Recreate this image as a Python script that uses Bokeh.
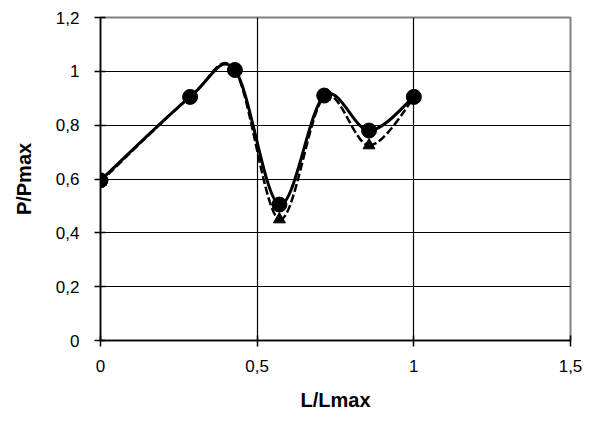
import numpy as np
from bokeh.plotting import figure
from bokeh.models import FixedTicker, CustomJSTickFormatter, Range1d
from bokeh.embed import file_html
from bokeh.resources import INLINE

# Relative length positions and normalised load for the two measured series
x_rel = [0.0, 0.286, 0.429, 0.571, 0.714, 0.857, 1.0]
p_circle = [0.595, 0.905, 1.005, 0.505, 0.91, 0.78, 0.905]
p_triangle = [0.59, 0.905, 1.005, 0.45, 0.905, 0.725, 0.9]

x_ticks = [0, 0.5, 1, 1.5]
y_ticks = [0, 0.2, 0.4, 0.6, 0.8, 1.0, 1.2]

FONT = "Liberation Sans"


def smooth_segments(xs, ys):
    """Cubic Bezier segments through the points (Catmull-Rom style tangents)."""
    x = np.asarray(xs, dtype=float)
    y = np.asarray(ys, dtype=float)
    n = len(x)
    prev = np.r_[0, np.arange(n - 1)]
    nxt = np.r_[np.arange(1, n), n - 1]
    tx = (x[nxt] - x[prev]) / 6.0
    ty = (y[nxt] - y[prev]) / 6.0
    return dict(
        x0=x[:-1], y0=y[:-1], x1=x[1:], y1=y[1:],
        cx0=x[:-1] + tx[:-1], cy0=y[:-1] + ty[:-1],
        cx1=x[1:] - tx[1:], cy1=y[1:] - ty[1:],
    )


p = figure(
    width=594, height=421,
    x_range=Range1d(0, 1.5), y_range=Range1d(0, 1.2),
    output_backend="svg", toolbar_location=None,
    min_border_left=100, min_border_right=24,
    min_border_top=17, min_border_bottom=81,
    background_fill_color="white", border_fill_color="white",
)

p.outline_line_color = "#808080"
p.outline_line_width = 2

comma = CustomJSTickFormatter(
    code="return (Math.round(tick * 10) / 10).toString().replace('.', ',');"
)

p.xaxis.ticker = FixedTicker(ticks=x_ticks)
p.yaxis.ticker = FixedTicker(ticks=y_ticks)
p.xaxis.formatter = comma
p.yaxis.formatter = comma

for ax in (p.xaxis[0], p.yaxis[0]):
    ax.axis_line_color = "black"
    ax.axis_line_width = 1.5
    ax.major_tick_line_color = "black"
    ax.major_tick_line_width = 1.5
    ax.major_tick_in = 5
    ax.major_tick_out = 6
    ax.minor_tick_line_color = None
    ax.major_label_text_font = FONT
    ax.major_label_text_font_size = "17px"
    ax.major_label_text_color = "black"
    ax.axis_label_text_font = FONT
    ax.axis_label_text_font_size = "20px"
    ax.axis_label_text_font_style = "bold"
    ax.axis_label_text_color = "black"

p.xaxis.axis_label = "L/Lmax"
p.yaxis.axis_label = "P/Pmax"
p.xaxis.major_label_standoff = 13
p.yaxis.major_label_standoff = 15
p.xaxis.axis_label_standoff = 14
p.yaxis.axis_label_standoff = 18

p.xgrid.grid_line_color = "black"
p.ygrid.grid_line_color = "black"
p.xgrid.grid_line_width = 1.2
p.ygrid.grid_line_width = 1.2

# Dashed series with triangles
seg_t = smooth_segments(x_rel, p_triangle)
p.bezier(**seg_t, line_color="black", line_width=2.5, line_dash="8 3")
p.scatter(x_rel, p_triangle, marker="triangle", size=12, color="black")

# Solid series with circles
seg_c = smooth_segments(x_rel, p_circle)
p.bezier(**seg_c, line_color="black", line_width=3)
p.scatter(x_rel, p_circle, marker="circle", size=15, color="black")

open("out.html", "w").write(file_html(p, INLINE))
